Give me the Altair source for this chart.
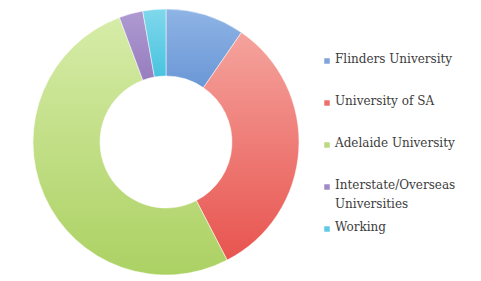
import altair as alt
import pandas as pd

categories = ["Flinders University", "University of SA", "Adelaide University",
              "Interstate/Overseas Universities", "Working"]
legend_labels = ["Flinders University", "University of SA", "Adelaide University",
                 "Interstate/Overseas\nUniversities", "Working"]
values = [9.6, 32.8, 51.9, 2.9, 2.8]
colors = ["#7ea4db", "#ec716d", "#bcd97d", "#a08ac7", "#5ccbe3"]
top_colors = ["#8fb4e5", "#f5a39d", "#d6eca8", "#ae9ad1", "#80d8eb"]
bottom_colors = ["#6a97d6", "#e8544f", "#acd163", "#977dbf", "#48c3df"]

df = pd.DataFrame({"cat": categories, "label": legend_labels, "value": values,
                   "order": list(range(len(categories)))})

color_scale = alt.Scale(domain=categories, range=colors)

base = alt.Chart(df).transform_window(
    cum="sum(value)", sort=[alt.SortField("order")], frame=[None, 0]
).transform_joinaggregate(
    total="sum(value)"
).transform_calculate(
    t0="(datum.cum - datum.value) / datum.total",
    t1="datum.cum / datum.total",
)

slices = []
for cat, c_top, c_bot in zip(categories, top_colors, bottom_colors):
    grad = alt.Gradient(gradient="linear",
                        stops=[alt.GradientStop(color=c_top, offset=0),
                               alt.GradientStop(color=c_bot, offset=1)],
                        x1=0, x2=0, y1=0, y2=1)
    slices.append(
        base.transform_filter(alt.datum.cat == cat).mark_arc(
            outerRadius=133, innerRadius=66, color=grad, stroke="white", strokeWidth=0.5
        ).encode(
            theta=alt.Theta("t0:Q", scale=alt.Scale(domain=[0, 1])),
            theta2="t1:Q",
        )
    )

pie = alt.layer(*slices).properties(width=316, height=266)

ypos = alt.Y("cat:N", scale=alt.Scale(domain=categories, range=[52, 220], padding=0), axis=None)

squares = alt.Chart(df).mark_square(size=30, opacity=1).encode(
    x=alt.value(3),
    y=ypos,
    color=alt.Color("cat:N", scale=color_scale, legend=None),
)

texts = alt.Chart(df).mark_text(align="left", baseline="top", dy=-7, lineBreak="\n",
                                font="DejaVu Serif", fontSize=12,
                                color="#3c3c3c", lineHeight=19).encode(
    x=alt.value(11),
    y=ypos,
    text="label:N",
)

legend = alt.layer(squares, texts).properties(width=140, height=266)

chart = alt.hconcat(pie, legend, spacing=0).properties(padding=0).configure_view(stroke=None)

chart.save("out.html", embed_options={"renderer": "svg", "actions": False})
